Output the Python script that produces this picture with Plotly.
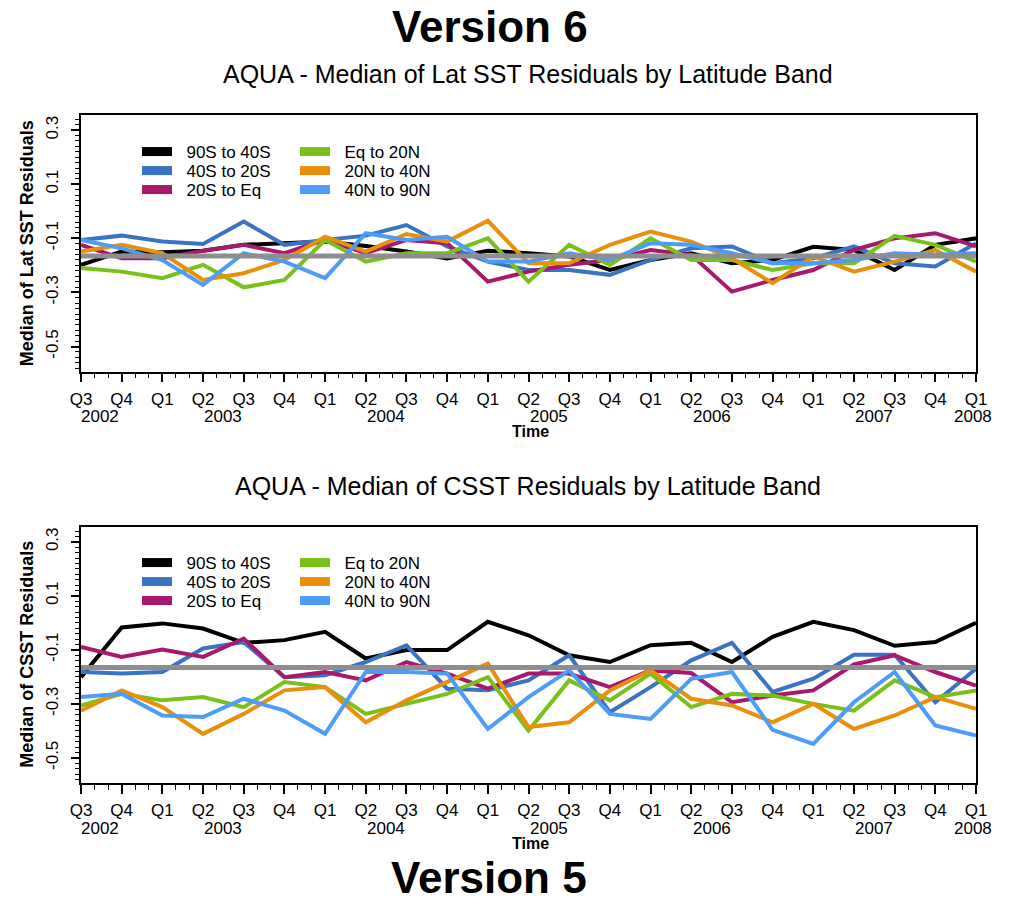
import plotly.graph_objects as go

# ---------------- data ----------------
QUARTERS = ["Q3", "Q4", "Q1", "Q2", "Q3", "Q4", "Q1", "Q2", "Q3", "Q4", "Q1", "Q2",
            "Q3", "Q4", "Q1", "Q2", "Q3", "Q4", "Q1", "Q2", "Q3", "Q4", "Q1"]
YEARS = ["2002", "2003", "2004", "2005", "2006", "2007", "2008"]
YEAR_POS = [0.47, 3.5, 7.5, 11.5, 15.5, 19.5, 21.93]
BANDS = ["90S to 40S", "40S to 20S", "20S to Eq", "Eq to 20N", "20N to 40N", "40N to 90N"]
COLORS = ["#000000", "#3b73c4", "#a8186c", "#79c11a", "#e8900c", "#4d9cf8"]
Y_TICKS = [0.3, 0.1, -0.1, -0.3, -0.5]
Y_TICKTEXT = ["0.3", "0.1", "-0.1", "-0.3", "-0.5"]
REF_LEVEL = -0.165

# Version 6 : Median of Lat SST residuals
V6_90S_40S = [-0.198, -0.149, -0.151, -0.146, -0.124, -0.118, -0.112, -0.128, -0.149, -0.174, -0.146, -0.155,
              -0.167, -0.217, -0.180, -0.155, -0.192, -0.180, -0.131, -0.143, -0.217, -0.124, -0.100]
V6_40S_20S = [-0.106, -0.090, -0.112, -0.121, -0.038, -0.124, -0.106, -0.090, -0.051, -0.130, -0.186, -0.217,
              -0.217, -0.235, -0.180, -0.137, -0.130, -0.192, -0.174, -0.130, -0.192, -0.204, -0.118]
V6_20S_EQ = [-0.124, -0.174, -0.174, -0.146, -0.124, -0.155, -0.106, -0.155, -0.106, -0.118, -0.260, -0.223,
             -0.198, -0.180, -0.143, -0.161, -0.297, -0.254, -0.217, -0.143, -0.100, -0.081, -0.130]
V6_EQ_20N = [-0.210, -0.223, -0.247, -0.198, -0.281, -0.254, -0.106, -0.186, -0.155, -0.155, -0.100, -0.260,
             -0.124, -0.198, -0.100, -0.180, -0.180, -0.217, -0.192, -0.192, -0.091, -0.124, -0.186]
V6_20N_40N = [-0.149, -0.124, -0.155, -0.254, -0.229, -0.180, -0.094, -0.149, -0.084, -0.112, -0.035, -0.192,
              -0.192, -0.124, -0.075, -0.112, -0.174, -0.266, -0.167, -0.223, -0.186, -0.143, -0.223]
V6_40N_90N = [-0.106, -0.137, -0.180, -0.272, -0.155, -0.186, -0.247, -0.081, -0.106, -0.094, -0.186, -0.186,
              -0.155, -0.180, -0.118, -0.124, -0.155, -0.192, -0.192, -0.180, -0.155, -0.161, -0.155]

# Version 5 : Median of CSST residuals
V5_90S_40S = [-0.201, -0.017, -0.002, -0.021, -0.074, -0.064, -0.033, -0.132, -0.101, -0.101, 0.004, -0.046,
              -0.120, -0.145, -0.083, -0.074, -0.145, -0.052, 0.004, -0.027, -0.085, -0.071, 0.000]
V5_40S_20S = [-0.182, -0.188, -0.182, -0.095, -0.071, -0.201, -0.194, -0.145, -0.083, -0.244, -0.250, -0.213,
              -0.120, -0.331, -0.238, -0.139, -0.074, -0.256, -0.207, -0.118, -0.118, -0.294, -0.170]
V5_20S_EQ = [-0.089, -0.126, -0.099, -0.126, -0.058, -0.201, -0.182, -0.213, -0.145, -0.188, -0.244, -0.188,
             -0.188, -0.238, -0.176, -0.186, -0.294, -0.269, -0.250, -0.154, -0.120, -0.182, -0.232]
V5_EQ_20N = [-0.306, -0.263, -0.287, -0.275, -0.312, -0.219, -0.238, -0.337, -0.300, -0.263, -0.201, -0.399,
             -0.213, -0.287, -0.188, -0.312, -0.263, -0.269, -0.300, -0.325, -0.213, -0.275, -0.250]
V5_20N_40N = [-0.325, -0.250, -0.312, -0.411, -0.337, -0.250, -0.238, -0.368, -0.287, -0.219, -0.151, -0.386,
              -0.368, -0.250, -0.176, -0.281, -0.306, -0.368, -0.300, -0.393, -0.343, -0.275, -0.318]
V5_40N_90N = [-0.275, -0.263, -0.343, -0.349, -0.281, -0.325, -0.411, -0.182, -0.182, -0.188, -0.393, -0.275,
              -0.176, -0.337, -0.356, -0.207, -0.182, -0.396, -0.448, -0.294, -0.182, -0.380, -0.417]

V6_SERIES = [V6_90S_40S, V6_40S_20S, V6_20S_EQ, V6_EQ_20N, V6_20N_40N, V6_40N_90N]
V5_SERIES = [V5_90S_40S, V5_40S_20S, V5_20S_EQ, V5_EQ_20N, V5_20N_40N, V5_40N_90N]

# ---------------- layout geometry ----------------
W, H = 1013, 902
ML, MR, MT, MB = 81, 37, 115, 119
PH = H - MT - MB
PW = W - ML - MR


def paper_y(px):
    return (H - MB - px) / PH


def paper_x(px):
    return (px - ML) / PW


TOP_PANEL = (115, 371.7)
BOT_PANEL = (526.7, 783)
YRANGE = [-0.593, 0.356]
FONT = "Arial, Liberation Sans, sans-serif"

x = list(range(len(QUARTERS)))
fig = go.Figure()

panels = [
    dict(series=V6_SERIES, xa="x", ya="y", legends=["legend", "legend2", "legend3"],
         rows_px=[152, 171, 190]),
    dict(series=V5_SERIES, xa="x2", ya="y2", legends=["legend4", "legend5", "legend6"],
         rows_px=[563, 582, 601]),
]
ROW_OF = [0, 1, 2, 0, 1, 2]

for p in panels:
    for name, vals, col in zip(BANDS, p["series"], COLORS):
        fig.add_trace(go.Scatter(x=x, y=vals, mode="lines", name=name,
                                 line=dict(color=col, width=4), showlegend=False,
                                 xaxis=p["xa"], yaxis=p["ya"], hoverinfo="skip"))
    # legend entries
    for i, (name, col) in enumerate(zip(BANDS, COLORS)):
        fig.add_trace(go.Scatter(x=[None], y=[None], mode="lines", name="\u00a0\u00a0" + name,
                                 line=dict(color=col, width=9), showlegend=True,
                                 legend=p["legends"][ROW_OF[i]],
                                 xaxis=p["xa"], yaxis=p["ya"], hoverinfo="skip"))

axis_common = dict(showline=True, mirror=True, linecolor="black", linewidth=1.5,
                   showgrid=False, zeroline=False, ticks="outside", tickcolor="black",
                   tickwidth=1.5)

for xa, ya, (ytop, ybot) in [("xaxis", "yaxis", TOP_PANEL), ("xaxis2", "yaxis2", BOT_PANEL)]:
    yname = ya.replace("axis", "")
    xname = xa.replace("axis", "")
    fig.layout[xa] = dict(axis_common, domain=[0, 1], anchor=yname, range=[0, 22],
                          tickmode="array", tickvals=x, ticktext=QUARTERS, ticklen=9,
                          ticklabelstandoff=2,
                          tickfont=dict(family=FONT, size=17, color="black"),
                          minor=dict(dtick=1 / 3, tick0=0, ticks="outside", ticklen=5,
                                     tickwidth=1.3, tickcolor="black", showgrid=False))
    fig.layout[ya] = dict(axis_common, domain=[paper_y(ybot), paper_y(ytop)], anchor=xname,
                          range=YRANGE, tickmode="array", tickvals=Y_TICKS, ticktext=Y_TICKTEXT,
                          ticklen=8, tickangle=-90, ticklabelstandoff=6,
                          tickfont=dict(family=FONT, size=17, color="black"),
                          minor=dict(dtick=0.02, tick0=0, ticks="outside", ticklen=4,
                                     tickwidth=1.2, tickcolor="black", showgrid=False))
    fig.add_shape(type="line", xref=xname, yref=yname, x0=0, x1=22, y0=REF_LEVEL, y1=REF_LEVEL,
                  line=dict(color="#8e8e8e", width=5), layer="above")

# legends
legend_layout = {}
for p in panels:
    for lname, ypx in zip(p["legends"], p["rows_px"]):
        legend_layout[lname] = dict(orientation="h", xref="paper", yref="paper",
                                    x=paper_x(142 - 5), y=paper_y(ypx), xanchor="left", yanchor="middle",
                                    entrywidth=113, bgcolor="rgba(0,0,0,0)",
                                    font=dict(family=FONT, size=17, color="black"),
                                    tracegroupgap=0)
fig.update_layout(**legend_layout)

annotations = []
# year labels and axis titles
for xname, (ytop, ybot), title, ytitle in [
        ("x", TOP_PANEL, "AQUA - Median of Lat SST Residuals by Latitude Band", "Median of Lat SST Residuals"),
        ("x2", BOT_PANEL, "AQUA - Median of CSST Residuals by Latitude Band", "Median of CSST Residuals")]:
    for yr, pos in zip(YEARS, YEAR_POS):
        annotations.append(dict(x=pos, y=paper_y(ybot + 45), xref=xname, yref="paper", text=yr,
                                showarrow=False, xanchor="center", yanchor="middle",
                                font=dict(family=FONT, size=17, color="black")))
    annotations.append(dict(x=paper_x(530), y=paper_y(ybot + 60), xref="paper", yref="paper",
                            text="<b>Time</b>", showarrow=False, xanchor="center", yanchor="middle",
                            font=dict(family=FONT, size=16, color="black")))
    annotations.append(dict(x=paper_x(27), y=paper_y((ytop + ybot) / 2), xref="paper", yref="paper",
                            text="<b>" + ytitle + "</b>", textangle=-90, showarrow=False,
                            xanchor="center", yanchor="middle",
                            font=dict(family=FONT, size=18, color="black")))
    annotations.append(dict(x=paper_x(528), y=paper_y(ytop - 41), xref="paper", yref="paper",
                            text=title, showarrow=False, xanchor="center", yanchor="middle",
                            font=dict(family=FONT, size=25, color="black")))

annotations.append(dict(x=paper_x(490), y=paper_y(26), xref="paper", yref="paper", text="<b>Version 6</b>",
                        showarrow=False, xanchor="center", yanchor="middle",
                        font=dict(family=FONT, size=44, color="black")))
annotations.append(dict(x=paper_x(489), y=paper_y(877), xref="paper", yref="paper", text="<b>Version 5</b>",
                        showarrow=False, xanchor="center", yanchor="middle",
                        font=dict(family=FONT, size=44, color="black")))

fig.update_layout(width=W, height=H, margin=dict(l=ML, r=MR, t=MT, b=MB, autoexpand=False),
                  plot_bgcolor="white", paper_bgcolor="white",
                  font=dict(family=FONT, color="black"),
                  annotations=annotations, showlegend=True)

fig.write_html("out.html")
